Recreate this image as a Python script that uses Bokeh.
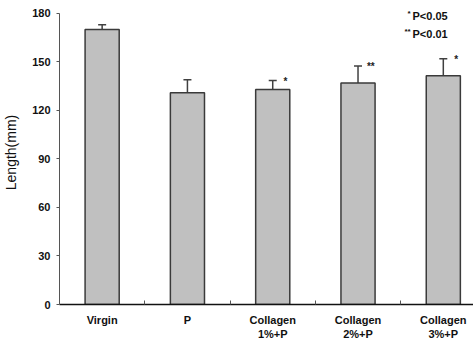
from bokeh.plotting import figure
from bokeh.models import ColumnDataSource, FixedTicker, Whisker, TeeHead, Label
from bokeh.core.properties import value
from bokeh.embed import file_html
from bokeh.resources import INLINE

groups = ["Virgin", "P", "Collagen\n1%+P", "Collagen\n2%+P", "Collagen\n3%+P"]
lengths = [170, 131, 133, 137, 141.5]
errors = [3, 8, 5.5, 10.5, 10.5]
sig = ["", "", "*", "**", "*"]
y_ticks = [0, 30, 60, 90, 120, 150, 180]

xs = list(range(len(groups)))
tops = [v + e for v, e in zip(lengths, errors)]
src = ColumnDataSource(dict(x=xs, top=lengths, up=tops, sig=sig,
                            sx=[x + 0.15 for x in xs]))

FONT = "Liberation Sans"
p = figure(width=473, height=342, output_backend="svg", toolbar_location=None,
           x_range=(-0.5, 4.354), y_range=(0, 188),
           min_border_left=57, min_border_right=0, min_border_top=0,
           min_border_bottom=37)
p.outline_line_color = None
p.xgrid.visible = False
p.ygrid.visible = False

p.vbar(x="x", top="top", width=0.4, source=src, fill_color="#c0c0c0",
       line_color="#3a3a3a", line_width=1.5)
p.add_layout(Whisker(base="x", lower="top", upper="up", source=src,
                     line_color="#404040", line_width=1.5,
                     upper_head=TeeHead(size=8, line_color="#404040", line_width=1.5),
                     lower_head=None))
p.text(x="sx", y="up", text="sig", source=src, text_font=value(FONT),
       text_font_size="10px", text_font_style="bold", text_align="center",
       text_baseline="middle", text_color="#222222", y_offset=1)

# y axis
p.yaxis.ticker = FixedTicker(ticks=y_ticks)
p.yaxis.bounds = (0, 180)
p.yaxis.axis_label = "Length(mm)"
p.yaxis.axis_label_text_font = FONT
p.yaxis.axis_label_text_font_style = "normal"
p.yaxis.axis_label_text_font_size = "14px"
p.yaxis.axis_label_text_color = "#111111"
p.yaxis.axis_label_standoff = 10
p.yaxis.major_label_text_font = FONT
p.yaxis.major_label_text_font_style = "bold"
p.yaxis.major_label_text_font_size = "11px"
p.yaxis.major_label_text_color = "#111111"
p.yaxis.major_label_standoff = 6
p.yaxis.major_tick_in = 0
p.yaxis.major_tick_out = 3
p.yaxis.minor_tick_line_color = None
p.yaxis.axis_line_color = "#555555"
p.yaxis.major_tick_line_color = "#555555"

# x axis
p.xaxis.ticker = FixedTicker(ticks=xs, minor_ticks=[x + 0.5 for x in xs[:-1]])
p.xaxis.major_label_overrides = {x: g for x, g in zip(xs, groups)}
p.xaxis.major_label_text_font = FONT
p.xaxis.major_label_text_font_style = "bold"
p.xaxis.major_label_text_font_size = "11px"
p.xaxis.major_label_text_color = "#111111"
p.xaxis.major_label_standoff = 9
p.xaxis.major_tick_in = 0
p.xaxis.major_tick_out = 0
p.xaxis.minor_tick_in = 4
p.xaxis.minor_tick_out = 0
p.xaxis.minor_tick_line_color = "#555555"
p.xaxis.axis_line_color = "#111111"
p.xaxis.axis_line_width = 1.5

# significance legend (screen px in the frame: x from left axis, y from x axis)
for txt, sz, xx, yy in [("*", "8px", 405, 14), ("P<0.05", "11px", 410, 16),
                        ("**", "8px", 402, 32), ("P<0.01", "11px", 410, 34)]:
    p.add_layout(Label(x=xx - 57, y=305 - yy, x_units="screen", y_units="screen",
                       text=txt, text_font=FONT, text_font_size=sz,
                       text_font_style="bold", text_color="#111111",
                       text_baseline="middle"))

open("out.html", "w").write(file_html(p, INLINE))
